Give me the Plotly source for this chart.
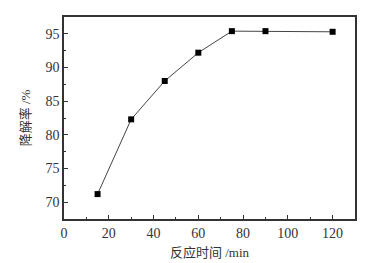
import plotly.graph_objects as go

times = [15, 30, 45, 60, 75, 90, 120]
rates = [71.2, 82.3, 88.0, 92.2, 95.4, 95.4, 95.3]
x_ticks = [0, 20, 40, 60, 80, 100, 120]
y_ticks = [70, 75, 80, 85, 90, 95]

fig = go.Figure()
fig.add_trace(go.Scatter(
    x=times, y=rates, mode="lines+markers",
    line=dict(color="#444444", width=1),
    marker=dict(symbol="square", size=6, color="black"),
    showlegend=False,
))

axis_common = dict(
    showline=True, linecolor="#333333", linewidth=1.5, mirror=True,
    ticks="inside", ticklen=4, tickcolor="#333333", showgrid=False, zeroline=False,
    tickfont=dict(family="Liberation Serif", size=14, color="#333333"),
)
fig.update_xaxes(range=[0, 130], tickvals=x_ticks,
                 minor=dict(ticks="inside", ticklen=2.5, dtick=10, tickcolor="#333333"),
                 title=dict(text="反应时间 /min", standoff=8,
                            font=dict(family="Liberation Serif, Noto Sans CJK SC", size=13, color="#333333")),
                 **axis_common)
fig.update_yaxes(range=[67.5, 97.5], tickvals=y_ticks,
                 minor=dict(ticks="inside", ticklen=2.5, dtick=2.5, tickcolor="#333333"),
                 title=dict(text="降解率 /%", standoff=12,
                            font=dict(family="Liberation Serif, Noto Sans CJK SC", size=13, color="#333333")),
                 **axis_common)
fig.update_layout(
    width=376, height=263,
    margin=dict(l=56, r=29, t=7, b=52),
    paper_bgcolor="white", plot_bgcolor="white",
    font=dict(family="Liberation Serif"),
)
fig.write_html("out.html")
